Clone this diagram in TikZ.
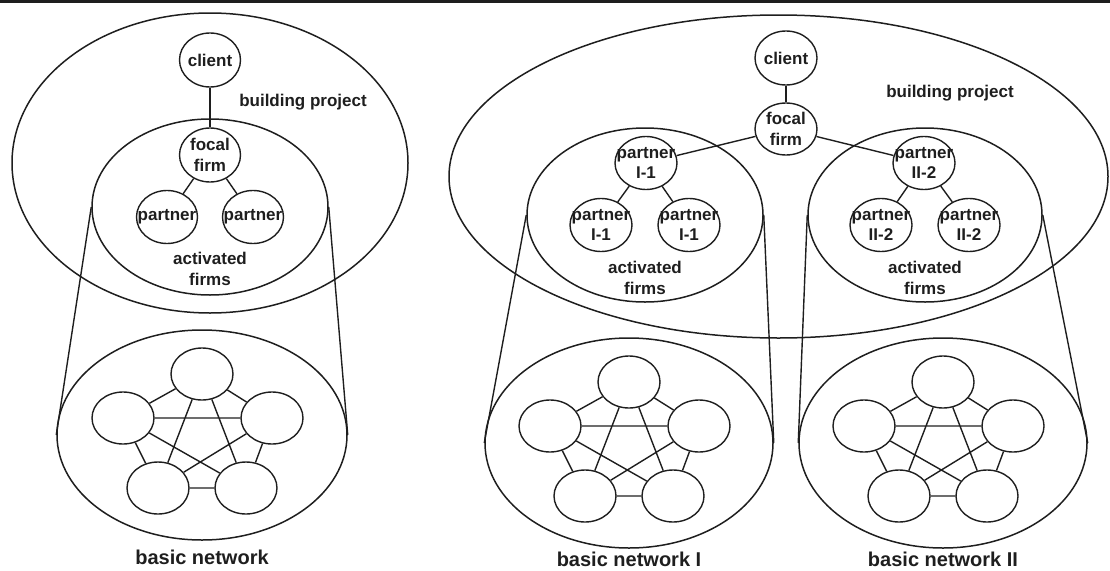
\documentclass[tikz,border=0pt]{standalone}
\usepackage{fontspec}
\setmainfont{Liberation Sans}
\usetikzlibrary{shapes.geometric}
\definecolor{ink}{HTML}{1E1E1E}
\tikzset{
  el/.style={ellipse, draw=ink, line width=1.4pt, inner sep=0pt},
  bigel/.style={el, line width=1.5pt},
  txt/.style={text=ink, font=\bfseries\fontsize{17}{20.5}\selectfont, align=center, inner sep=0pt},
  bigtxt/.style={text=ink, font=\bfseries\fontsize{20}{24}\selectfont, inner sep=0pt},
  conn/.style={draw=ink, line width=1.4pt},
  bcirc/.style={el, minimum width=62pt, minimum height=52pt},
  pcirc/.style={el, minimum width=61pt, minimum height=54pt}
}
\newcommand\bnet[3]{%
  \node[bcirc] (#1t) at (#2,#3-61) {};
  \node[bcirc] (#1l) at (#2-79,#3-17) {};
  \node[bcirc] (#1r) at (#2+70,#3-17) {};
  \node[bcirc] (#1a) at (#2-44,#3+53) {};
  \node[bcirc] (#1b) at (#2+44,#3+53) {};
  \draw[conn] (#1t) -- (#1l) (#1t) -- (#1r) (#1l) -- (#1a) (#1r) -- (#1b) (#1a) -- (#1b);
  \draw[conn] (#1t) -- (#1a) (#1t) -- (#1b) (#1l) -- (#1r) (#1l) -- (#1b) (#1r) -- (#1a);
}
\begin{document}
\begin{tikzpicture}[x=1pt, y=-1pt]
\useasboundingbox (0,0) rectangle (1110,570);
\fill[ink] (0,0) rectangle (1110,2.5);

% ---------- left part ----------
\node[bigel, minimum width=396pt, minimum height=300pt] (Lproj) at (210,163) {};
\node[bigel, minimum width=236pt, minimum height=176pt] (Lact) at (210,207) {};
\node[pcirc] (Lclient) at (210,60) {};
\node[txt] (LclientT) at (Lclient) {client};
\node[pcirc] (Lfocal) at (210,155) {};
\node[txt] (LfocalT) at (Lfocal) {focal\\firm};
\node[pcirc, minimum height=53pt] (Lp1) at (167,217) {};
\node[txt] (Lp1T) at (Lp1) {partner};
\node[pcirc, minimum height=53pt] (Lp2) at (253,217) {};
\node[txt] (Lp2T) at (Lp2) {partner};
\draw[conn] (Lclient) -- (Lfocal);
\draw[conn] (Lfocal) -- (Lp1);
\draw[conn] (Lfocal) -- (Lp2);
\node[txt] (LprojT) at (303,102) {building project};
\node[txt] (LactT) at (210,269) {activated\\firms};
\node[bigel, minimum width=290pt, minimum height=210pt] (Lbasic) at (202,435) {};
\node[bigtxt] (LbasicT) at (202,557) {basic network};
\bnet{Lb}{202}{435}
\draw[conn] (Lact.west) -- (Lbasic.west);
\draw[conn] (Lact.east) -- (Lbasic.east);

% ---------- right part ----------
\node[bigel, minimum width=659pt, minimum height=323pt] (Rproj) at (778.5,176.5) {};
\node[bigel, minimum width=236pt, minimum height=174pt] (Ract1) at (645,215) {};
\node[bigel, minimum width=234pt, minimum height=174pt] (Ract2) at (925,215) {};
\node[pcirc, minimum width=62pt] (Rclient) at (786,58) {};
\node[txt] (RclientT) at (Rclient) {client};
\node[pcirc, minimum width=62pt, minimum height=52pt] (Rfocal) at (786,129) {};
\node[txt] (RfocalT) at (Rfocal) {focal\\firm};
\node[txt] (RprojT) at (950,93) {building project};

\node[pcirc, minimum width=62pt, minimum height=53pt] (Ra) at (646,163) {};
\node[txt] (RaT) at (Ra) {partner\\I-1};
\node[pcirc, minimum width=62pt, minimum height=53pt] (Ra1) at (601,225) {};
\node[txt] (Ra1T) at (Ra1) {partner\\I-1};
\node[pcirc, minimum width=62pt, minimum height=53pt] (Ra2) at (689,225) {};
\node[txt] (Ra2T) at (Ra2) {partner\\I-1};
\node[txt] (Ract1T) at (645,278) {activated\\firms};

\node[pcirc, minimum width=62pt, minimum height=53pt] (Rb) at (924,163) {};
\node[txt] (RbT) at (Rb) {partner\\II-2};
\node[pcirc, minimum width=62pt, minimum height=53pt] (Rb1) at (881,225) {};
\node[txt] (Rb1T) at (Rb1) {partner\\II-2};
\node[pcirc, minimum width=62pt, minimum height=53pt] (Rb2) at (969,225) {};
\node[txt] (Rb2T) at (Rb2) {partner\\II-2};
\node[txt] (Ract2T) at (925,278) {activated\\firms};

\draw[conn] (Rclient) -- (Rfocal);
\draw[conn] (Rfocal) -- (Ra);
\draw[conn] (Rfocal) -- (Rb);
\draw[conn] (Ra) -- (Ra1);
\draw[conn] (Ra) -- (Ra2);
\draw[conn] (Rb) -- (Rb1);
\draw[conn] (Rb) -- (Rb2);

\node[bigel, minimum width=288pt, minimum height=210pt] (Rbasic1) at (629,443) {};
\node[bigtxt] (Rbasic1T) at (629,559.5) {basic network I};
\bnet{Ru}{629}{443}
\node[bigel, minimum width=288pt, minimum height=210pt] (Rbasic2) at (943,443) {};
\node[bigtxt] (Rbasic2T) at (943,559.5) {basic network II};
\bnet{Rv}{943}{443}

\draw[conn] (Ract1.west) -- (Rbasic1.west);
\draw[conn] (Ract1.east) -- (Rbasic1.east);
\draw[conn] (Ract2.west) -- (Rbasic2.west);
\draw[conn] (Ract2.east) -- (Rbasic2.east);
\end{tikzpicture}
\end{document}
